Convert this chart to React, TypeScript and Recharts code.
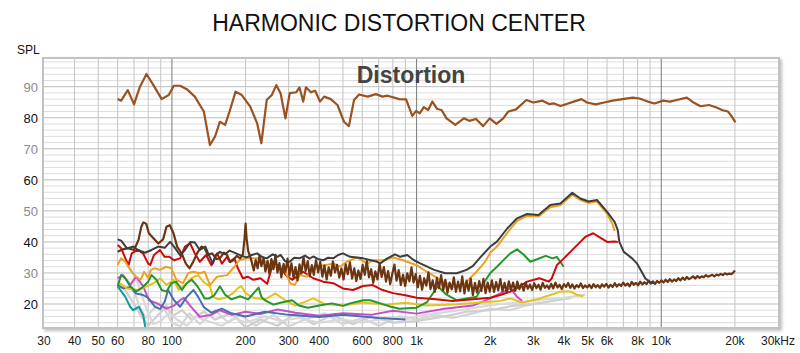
import React from "react";
import { LineChart, Line, XAxis, YAxis, ReferenceLine } from "recharts";

type Pt = [number, number];

const xTicks = [30, 40, 50, 60, 80, 100, 200, 300, 400, 600, 800, 1000, 2000, 3000, 4000, 5000, 6000, 8000, 10000, 20000, 30000];
const xTickLabels = ["30", "40", "50", "60", "80", "100", "200", "300", "400", "600", "800", "1k", "2k", "3k", "4k", "5k", "6k", "8k", "10k", "20k", "30kHz"];
const yTicks = [20, 30, 40, 50, 60, 70, 80, 90];
const vGrid = [40, 50, 60, 70, 80, 90, 100, 200, 300, 400, 500, 600, 700, 800, 900, 1000, 2000, 3000, 4000, 5000, 6000, 7000, 8000, 9000, 10000, 20000];
const hGrid = [14, 16, 18, 20, 22, 24, 26, 28, 30, 32, 34, 36, 38, 40, 42, 44, 46, 48, 50, 52, 54, 56, 58, 60, 62, 64, 66, 68, 70, 72, 74, 76, 78, 80, 82, 84, 86, 88, 90, 92, 94, 96, 98];

// fundamental (SPL)
const fundamental: Pt[] = [
  [60, 86], [62, 85.5], [66, 88.9], [70, 84.3], [74, 90], [78.7, 94.1], [84, 90.5], [90.8, 86], [97, 87.3],
  [101.8, 90.3], [108, 90.3], [115, 89.2], [124, 86.8], [135, 82], [143, 71.2], [150, 73.9], [157, 78.7],
  [165, 77.7], [172, 82], [182, 88.4], [193, 87.3], [209, 83.6], [223, 78.2], [232, 71.8], [244, 85.7],
  [256, 87.3], [267, 90.5], [278, 87.9], [291, 79.8], [303, 87.9], [322, 88.2], [332, 89.8], [344, 85.2],
  [353, 89.8], [370, 88.2], [385, 88.7], [403, 85.2], [419, 86.8], [446, 86], [475, 84.1], [505, 78.7],
  [529, 77.3], [555, 85.7], [582, 87.5], [631, 86.8], [682, 87.6], [726, 86.8], [761, 87.1], [850, 86],
  [906, 85.9], [960, 80.6], [996, 82.2], [1030, 81.4], [1070, 83.4], [1115, 82.5], [1160, 85.2],
  [1215, 82.8], [1265, 82.5], [1325, 79.8], [1440, 77.7], [1560, 79.8], [1640, 79], [1750, 79.6],
  [1870, 77.3], [1990, 79.8], [2120, 78], [2260, 79.8], [2370, 82], [2550, 82.7], [2810, 85.7], [3000, 84.9],
  [3270, 85.5], [3480, 84.4], [3650, 84.6], [3870, 83.8], [4100, 84.4], [4390, 85.2], [4720, 86], [4970, 84.9],
  [5400, 84.3], [5840, 84.9], [6320, 85.5], [6950, 86], [7640, 86.5], [8140, 86.2], [8810, 85.2], [9380, 84.6],
  [10180, 85.5], [10850, 85.2], [11560, 85.7], [12720, 86.5], [13560, 84.9], [14460, 83.7], [15670, 84.1],
  [16720, 83.4], [17840, 82.4], [18730, 82], [19340, 80.6], [20100, 78.5],
];

// THD (dark gray)
const thd: Pt[] = [
  [60, 40.8], [62, 40.4], [65.5, 37.9], [69.5, 38.5], [72.7, 37.4], [77.6, 36.5], [82.6, 37.4], [87.8, 38.5],
  [93.4, 38.1], [98.3, 40], [102, 38.5], [108, 35.7], [113, 37.4], [119, 40], [124, 39.8], [130, 37.4],
  [137, 38.5], [142, 35.5], [147, 33], [151, 35.8], [157, 36.8], [165, 36], [172, 37.2], [183, 36.3],
  [192, 35.6], [202, 35], [212, 35.8], [223, 36.3], [233, 35.2], [244, 34.7], [258, 36], [270, 35.2],
  [278, 35.8], [290, 33.8], [303, 33.6], [316, 34.9], [332, 34.7], [350, 35.6], [365, 34.6], [378, 35.3],
  [395, 34.5], [415, 34.1], [435, 34.9], [456, 34.7], [478, 35.8], [500, 36.3], [535, 35.2], [605, 34.7],
  [690, 33.6], [710, 33.1], [760, 34.7], [816, 36], [857, 35.2], [915, 35.8], [976, 34.1], [1035, 33.1],
  [1180, 31], [1310, 29.9], [1460, 29.9], [1600, 31], [1700, 32.3], [1821, 35], [2001, 38.5], [2130, 40.1],
  [2350, 44.4], [2575, 47.6], [2830, 49], [3150, 48.7], [3521, 51.9], [3869, 52.4], [4330, 55.8], [4671, 54],
  [5050, 53], [5460, 53.5], [6010, 49.7], [6440, 46.5], [6640, 43.8], [6740, 40], [7030, 36.8], [7600, 34.7],
  [7950, 33.1], [8600, 28.3], [9000, 27], [9500, 26.6],
];

// 2nd harmonic (orange)
const h2: Pt[] = [
  [60, 32.6], [62, 34.7], [64.5, 33.6], [67.5, 31], [71.3, 28.8], [74.4, 27.8], [77, 30.4], [80, 28.4],
  [82, 31], [85, 31.5], [89.3, 31], [94.8, 32], [99.5, 31.5], [104.3, 27.8], [111, 26.7], [116.7, 30],
  [122.5, 30.4], [130, 29.9], [136, 30.4], [143, 26.1], [153, 28.8], [168, 29.3], [180, 32], [189, 34.2],
  [202, 34.7], [229, 34.7], [260, 32], [286, 32], [304, 26.7], [318, 26.1], [334, 29.3], [357, 28.8],
  [379, 32], [418, 32.5], [457, 33], [487, 32], [518, 33.6], [571, 35], [627, 33], [663, 34.1], [729, 34.1],
  [801, 35], [880, 34.1], [1000, 32.5], [1100, 30.4], [1249, 27.8], [1415, 25.5], [1556, 26.1], [1658, 28.5],
  [1760, 30.4], [1900, 33.5], [2001, 36.5], [2130, 38.5], [2350, 43], [2575, 46.8], [2830, 48.4], [3150, 48.2],
  [3521, 51.2], [3869, 51.8], [4330, 55.2], [4671, 53.5], [5050, 52.5], [5460, 53], [6010, 49], [6300, 46],
  [6450, 43.5],
];

// 3rd harmonic (red)
const h3: Pt[] = [
  [60, 39], [62, 38], [64.5, 34.7], [66.5, 32.6], [68.5, 36.3], [72.5, 37.4], [76.2, 36.3], [80, 33],
  [81.6, 32.6], [84.5, 35.8], [89.3, 37.4], [93.4, 35.2], [97.6, 35.2], [102, 34.1], [108, 34.7], [113, 38.5],
  [118.7, 39.5], [124, 36.3], [130, 33.6], [138, 35.8], [145, 32.5], [153, 36.3], [160, 33], [168, 35.2],
  [172, 33.6], [180, 34.7], [186, 31.5], [195, 28.3], [204, 28.8], [215, 27.8], [230, 28.3], [245, 26.5],
  [260, 33.6], [278, 31.5], [296, 28.8], [311, 27.8], [344, 30.4], [378, 28.3], [415, 27.2], [456, 26.7],
  [500, 25], [550, 24.5], [604, 25.8], [662, 26.1], [726, 24.5], [800, 23.5], [900, 22.8], [1000, 22],
  [1200, 21.5], [1400, 21], [1700, 21.5], [2000, 22], [2200, 22.9], [2415, 24], [2575, 25.1], [2830, 27.2],
  [3180, 28.3], [3470, 27.2], [3570, 28.3], [3750, 32.6], [4000, 34.7], [4251, 36.8], [4671, 40], [4890, 41.6],
  [5270, 42.8], [5560, 41.6], [6010, 40], [6440, 40.1], [6640, 40],
];

// 4th harmonic (green)
const h4: Pt[] = [
  [60, 25.7], [62, 29.3], [64.5, 28.3], [67.5, 25.7], [71.3, 24], [75, 25.1], [80, 27.2], [82.6, 29.3],
  [86.4, 27.8], [90.8, 24.5], [95, 24], [99.5, 26.7], [104, 27.2], [109.8, 24.5], [115, 26.7], [120.5, 27.8],
  [126, 26.1], [130, 24.5], [136, 21.8], [142, 21.8], [149, 22.8], [157, 25.7], [165, 23], [175, 21.5],
  [190, 22.5], [205, 21.5], [226, 25.3], [232, 22.3], [240, 21.2], [260, 19.8], [280, 20.5], [310, 21.2],
  [330, 19.5], [360, 18.8], [400, 19.5], [450, 20.2], [500, 19.4], [535, 20.2], [605, 21.2], [646, 21.2],
  [710, 20.2], [780, 19.2], [850, 18.5], [1000, 18.8], [1100, 20.5], [1220, 25.7], [1325, 23], [1460, 21.2],
  [1600, 21.8], [1760, 22.3], [1880, 26.7], [2001, 30], [2130, 32], [2270, 34.2], [2415, 36.3], [2575, 37.6],
  [2750, 35.8], [2917, 33.6], [3110, 34.4], [3370, 35.5], [3600, 34.7], [3740, 35.2], [3869, 33.6], [3990, 32],
];

// 5th harmonic (yellow)
const h5: Pt[] = [
  [60, 27.2], [65.5, 25], [72.5, 24.5], [78, 25.5], [84.3, 26.7], [89.5, 28.3], [95, 26.1], [101.6, 27.8],
  [106.6, 24.5], [113, 26.1], [120, 28.3], [128, 29.3], [135, 27], [143, 25.7], [147, 22.3], [155, 21.5],
  [165, 22], [178, 23.5], [186, 25.1], [192, 25.8], [200, 23.5], [215, 22], [240, 21.5], [265, 23.4],
  [290, 21.2], [320, 19.5], [378, 21.8], [420, 20], [500, 19.5], [600, 20.5], [750, 19.8], [900, 20.4],
  [1100, 19.5], [1400, 19.8], [1800, 20.5], [2200, 21], [2415, 21.8], [2700, 20.5], [3100, 21.5], [3521, 22.9],
  [3869, 24], [4251, 24], [4550, 22.9], [4800, 22.5],
];

// 6th harmonic (blue)
const h6: Pt[] = [
  [60, 26.1], [63, 25.1], [67.5, 25.4], [71.3, 23.4], [76.3, 22.9], [80, 22], [85.3, 19.1], [89.5, 18.4],
  [93.4, 20.7], [96.5, 24.5], [99, 23], [102, 21.2], [108, 19.1], [115, 22.3], [122.5, 24.5], [128, 22.3],
  [135, 19], [145, 17.2], [160, 18.5], [175, 17], [200, 16], [240, 17.5], [300, 16.5], [400, 15.8], [500, 16.5],
  [700, 15.5], [900, 15],
];

// 7th harmonic (magenta)
const h7: Pt[] = [
  [60, 28.3], [63, 29.3], [67.5, 26.1], [71.3, 28.8], [76.3, 25.7], [80.6, 21.2], [87, 20.2], [95, 18.5],
  [102, 19.5], [108, 21.2], [112, 22], [120, 19], [130, 15.9], [145, 16.5], [157, 18], [175, 16.5], [200, 17.5],
  [230, 16.8], [270, 18.2], [320, 17.2], [400, 16.2], [500, 17], [650, 16.5], [800, 17.8], [1000, 16.9],
  [1300, 18.5], [1700, 19.5], [2001, 21.8], [2270, 24], [2415, 25.1], [2575, 22.3], [2700, 21],
];

// 8th harmonic (teal)
const h8: Pt[] = [
  [60, 25.7], [64.5, 22.3], [67.5, 19.1], [69.5, 18], [73.2, 19.1], [76.3, 16.4], [77.8, 12.6], [79, 10],
];

// higher harmonics (light gray)
const h9: Pt[] = [
  [64.5, 34.2], [67.5, 31.5], [72.5, 26.7], [76, 22], [80, 17], [84, 13.5], [90, 14.5], [97, 17], [105, 15],
  [115, 13], [125, 16], [140, 14.5], [160, 13], [180, 15.5], [200, 14], [240, 16], [280, 14.5], [330, 15.5],
  [400, 14], [500, 15], [600, 14], [750, 15.5], [900, 15], [1000, 16], [1200, 17], [1500, 18], [1800, 19],
  [2200, 20], [2700, 20.5], [3300, 21.5], [4000, 22], [4900, 23],
];
const h10: Pt[] = [
  [60, 27], [65, 24], [70, 20], [75, 16], [80, 13], [88, 16.5], [95, 19.5], [100, 16], [110, 18], [120, 15],
  [135, 17.5], [150, 15], [175, 17], [200, 12.5], [230, 15], [270, 13], [320, 17], [380, 13.5], [450, 16.5],
  [550, 13.5], [650, 16], [800, 14], [1000, 14.5], [1300, 16], [1600, 17.5], [2000, 18], [2500, 19.5],
  [3000, 20], [3600, 21], [4300, 22],
];
const h11: Pt[] = [
  [62, 30], [66, 27.5], [70, 24], [74, 19], [78, 15.5], [83, 18], [90, 20.5], [100, 14], [108, 12.8], [118, 17],
  [130, 13.5], [150, 18], [170, 14], [190, 16.5], [220, 13], [260, 16.5], [300, 12.8], [350, 15], [420, 17],
  [500, 13.5], [600, 15.5], [700, 13], [850, 16], [1000, 15], [1200, 16.5], [1400, 15.5], [1700, 17],
  [2000, 18.5], [2400, 18], [2800, 19.5], [3200, 20.5],
];

// noise floor (dark brown)
const noise: Pt[] = [
  [60, 36.8], [63, 37.6], [66, 38], [70, 37.4], [73, 40.6], [75, 45], [76.5, 46.3], [78.5, 45.8], [80.5, 42.8],
  [84, 41.2], [88, 39.5], [92, 40.8], [95, 44.9], [98, 45.4], [101.5, 42.8], [105, 38.5], [110, 36], [114, 33],
  [118, 31.5], [122, 33.5], [127, 36.5], [132, 38.5], [136, 38], [140, 35.8], [146, 36.3], [152, 34.5],
  [157, 34.7], [163, 36.5], [168, 35.8], [173, 33.5], [178, 34.1], [184, 35.5], [190, 34.7], [195, 36],
  [198, 41], [200, 45.9], [202, 41], [205, 37], [209, 35.2],
  [212, 33.5], [216, 30.8], [220, 34.2], [224, 31.5], [228, 35.6], [232, 32.2], [237, 34.8], [241, 30.5],
  [246, 33.9], [250, 29.8], [255, 34.5], [260, 31.2], [265, 35.8], [270, 30.1], [275, 33.2], [280, 28.6],
  [286, 32.9], [291, 30.4], [297, 34.6], [302, 29.2], [308, 33.1], [314, 28.4], [320, 31.9], [326, 27.6],
  [332, 32.8], [338, 29.9], [345, 35.2], [352, 30.6], [359, 33.8], [366, 28.9], [373, 32.5], [380, 29.4],
  [388, 34.1], [396, 30.2], [404, 33.6], [412, 28.8], [420, 32.4], [429, 27.9], [437, 31.8], [446, 29.1],
  [455, 33.7], [464, 30.2], [473, 32.6], [483, 28.5], [493, 31.4],
  [503, 27.9], [513, 32.8], [523, 29.6], [534, 33.4], [545, 28.2], [556, 31.5], [567, 27.4], [578, 30.8],
  [590, 28.1], [602, 32.6], [614, 29.4], [626, 33.9], [639, 28.6], [652, 31.2], [665, 26.8], [678, 30.5],
  [692, 27.9], [706, 33.1], [720, 28.7], [735, 31.9], [750, 27.2], [765, 30.6], [780, 26.4], [796, 29.8],
  [812, 32.7], [828, 27.5], [845, 30.9], [862, 26.1], [880, 29.4], [898, 25.8], [916, 29.9], [934, 27.3],
  [953, 31.8], [972, 26.9], [992, 29.6],
  [1012, 25.4], [1032, 29.1], [1053, 24.6], [1074, 28.3], [1096, 25.9], [1118, 30.2], [1140, 24.8],
  [1163, 27.6], [1187, 23.9], [1211, 28.4], [1235, 25.1], [1260, 29.3], [1285, 24.4], [1311, 27.8],
  [1337, 23.6], [1364, 26.9], [1392, 24.7], [1420, 28.6], [1448, 23.9], [1477, 27.2], [1507, 24.1],
  [1537, 28.9], [1568, 23.4], [1600, 27.5], [1632, 24.3], [1665, 28.2], [1698, 22.9], [1732, 26.8],
  [1767, 23.7], [1803, 27.4], [1839, 24.2], [1876, 28.1], [1914, 23.5], [1952, 26.9], [1991, 24],
  [2031, 27.6], [2072, 23.9], [2114, 27.1], [2156, 24.4], [2200, 28], [2244, 24.1], [2289, 26.8], [2335, 23.8],
  [2382, 27.3], [2430, 24.6], [2479, 26.9], [2529, 24.2], [2580, 27.2], [2632, 24.8], [2685, 26.5],
  [2739, 24.3], [2794, 26.9], [2850, 24.9], [2907, 26.3], [2966, 24.5], [3025, 26.7], [3086, 25.1],
  [3148, 26.2], [3212, 24.6], [3276, 26.8], [3342, 25.2], [3410, 26], [3478, 24.9], [3548, 26.5], [3620, 25],
  [3693, 26.9], [3767, 25.3], [3843, 26.2], [3920, 24.8], [4000, 26.4], [4080, 25.5], [4162, 26.8],
  [4246, 25.2], [4332, 26.3], [4419, 25], [4508, 26.1], [4599, 25.4], [4692, 26.6], [4786, 25.1], [4883, 26],
  [4981, 25.3],
  [5081, 26.2], [5184, 25.1], [5288, 26.4], [5395, 25.4], [5503, 26.1], [5614, 25.2], [5727, 26.3],
  [5843, 25.6], [5960, 26.5], [6080, 25.3], [6203, 26.2], [6328, 25.5], [6455, 26.7], [6585, 25.6],
  [6718, 26.4], [6853, 25.8], [6991, 26.9], [7132, 25.9], [7276, 26.6], [7422, 25.7], [7572, 27.1],
  [7724, 26.2], [7880, 26.8], [8039, 26], [8201, 27.2], [8366, 26.3], [8535, 27], [8707, 26.4], [8882, 27.5],
  [9061, 26.6], [9244, 27.3], [9430, 26.5], [9620, 27.4], [9814, 26.8], [10012, 27.6], [10214, 26.9],
  [10420, 27.8], [10630, 27.1], [10844, 28], [11062, 27.2], [11285, 27.9], [11513, 27.4], [11745, 28.3],
  [11981, 27.6], [12223, 28.5], [12469, 27.8], [12720, 28.7], [12977, 28], [13238, 28.4], [13505, 28.9],
  [13777, 28.2], [14055, 29], [14338, 28.4], [14627, 28.9], [14922, 28.6], [15223, 29.3], [15530, 28.8],
  [15843, 29.1], [16162, 29.4], [16488, 28.9], [16820, 29.5], [17159, 29.2], [17505, 29.7], [17858, 29.3],
  [18218, 29.9], [18585, 29.5], [18960, 29.8], [19342, 29.6], [19732, 30.2], [20000, 30.8],
];

const rows = (pts: Pt[]) => pts.map(([f, v]) => ({ f, v }));

const series = [
  { name: "H11", pts: h11, color: "#d6d6d6", w: 2.2 },
  { name: "H10", pts: h10, color: "#cfcfcf", w: 2.2 },
  { name: "H9", pts: h9, color: "#d9d9d9", w: 2.2 },
  { name: "H8", pts: h8, color: "#139a9a", w: 2 },
  { name: "H7", pts: h7, color: "#c94fc9", w: 2 },
  { name: "H6", pts: h6, color: "#4a6fb0", w: 2 },
  { name: "H5", pts: h5, color: "#e3c21c", w: 2 },
  { name: "H4", pts: h4, color: "#24962a", w: 2 },
  { name: "H3", pts: h3, color: "#cc0a0a", w: 2 },
  { name: "H2", pts: h2, color: "#eba224", w: 2 },
  { name: "Noise", pts: noise, color: "#6b3512", w: 2.2 },
  { name: "THD", pts: thd, color: "#3d3d3d", w: 2 },
  { name: "Fundamental", pts: fundamental, color: "#9a5221", w: 2.2 },
];

const font = "'Liberation Sans', Arial, sans-serif";

function XTick(props: any) {
  const { x, y, payload } = props;
  const i = xTicks.indexOf(payload.value);
  return (
    <text x={x} y={y} dy={9} textAnchor="middle" fontSize={12} fontFamily={font} fill="#1a1a1a">
      {xTickLabels[i]}
    </text>
  );
}

function YTick(props: any) {
  const { y, payload } = props;
  const dark = payload.value % 20 === 0;
  return (
    <text x={38} y={y} dy={5} textAnchor="end" fontSize={13} fontFamily={font} fill={dark ? "#111" : "#8a8a8a"}>
      {payload.value}
    </text>
  );
}

export default function App() {
  return (
    <div style={{ position: "absolute", left: 0, top: 0, width: 800, height: 353, background: "#fff" }}>
      <LineChart width={800} height={353} margin={{ top: 59, right: 22, bottom: 0, left: 0 }}>
        <XAxis
          type="number"
          dataKey="f"
          scale="log"
          domain={[30, 30000]}
          ticks={xTicks}
          interval={0}
          allowDataOverflow
          axisLine={false}
          tickLine={false}
          height={25}
          tick={<XTick />}
        />
        <YAxis
          type="number"
          domain={[12.27, 98.92]}
          ticks={yTicks}
          interval={0}
          allowDataOverflow
          axisLine={false}
          tickLine={false}
          width={44}
          tick={<YTick />}
        />
        {hGrid.map((v) => (
          <ReferenceLine key={"h" + v} y={v} stroke={v % 10 === 0 ? "#bdbdbd" : "#dddddd"} strokeWidth={1} />
        ))}
        {vGrid.map((v) => (
          <ReferenceLine
            key={"v" + v}
            x={v}
            stroke={v === 100 || v === 1000 || v === 10000 ? "#7a7a7a" : "#c4c4c4"}
            strokeWidth={1}
          />
        ))}
        {series.map((s) => (
          <Line
            key={s.name}
            name={s.name}
            data={rows(s.pts)}
            dataKey="v"
            type="linear"
            stroke={s.color}
            strokeWidth={s.w}
            strokeLinejoin="round"
            dot={false}
            activeDot={false}
            isAnimationActive={false}
          />
        ))}
      </LineChart>
      <div
        style={{
          position: "absolute",
          left: 42,
          top: 57,
          width: 738,
          height: 272,
          boxSizing: "border-box",
          border: "2px solid #c2c2c2",
          boxShadow: "2px 2px 3px rgba(0,0,0,0.25)",
          pointerEvents: "none",
        }}
      />
      <svg width={800} height={353} style={{ position: "absolute", left: 0, top: 0, pointerEvents: "none" }}>
        <text x={399} y={31} textAnchor="middle" fontSize={23} fontFamily={font} fill="#111">
          HARMONIC DISTORTION CENTER
        </text>
        <text x={17} y={54} fontSize={12} fontFamily={font} fill="#111">
          SPL
        </text>
        <text x={411} y={83} textAnchor="middle" fontSize={23} fontWeight="bold" fontFamily={font} fill="#444">
          Distortion
        </text>
      </svg>
    </div>
  );
}
